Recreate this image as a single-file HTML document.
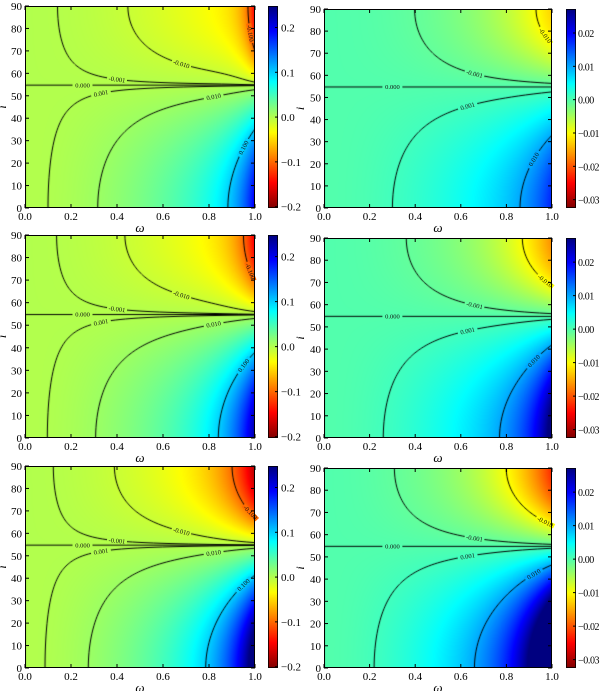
<!DOCTYPE html>
<html><head><meta charset="utf-8">
<style>
html,body{margin:0;padding:0;background:#fff;}
#wrap{position:relative;width:600px;height:691px;overflow:hidden;}
canvas{position:absolute;}
svg{position:absolute;left:0;top:0;}
text{font-family:"Liberation Serif",serif;}
</style></head>
<body>
<div id="wrap">
<svg id="ov" width="600" height="691"></svg>
</div>
<script>
// ---- data ----
const amp=[0.1,0.0111,0.106,0.0148,0.132,0.0207];
const posK=[1.0,0.62,1.19,1.05,1.2,1.27];
const posM=[10,6.9,7.3,7.7,6.9,5.9];
const negK=[2.1,1.29,1.95,1.27,1.74,1.2];
const negM=[20,2.4,11.3,3.45,6.6,3.8];
const levelsLeft=[-0.1,-0.01,-0.001,0,0.001,0.01,0.1];
const levelsRight=[-0.01,-0.001,0,0.001,0.01];
const cbTicksLeft=[-0.2,-0.1,0.0,0.1,0.2];
const cbTicksRight=[-0.03,-0.02,-0.01,0.00,0.01,0.02];
const xTicks=[0,0.2,0.4,0.6,0.8,1.0];
const yTicks=[0,10,20,30,40,50,60,70,80,90];
const labelOmegaLeft={"0":0.25,"0.001":0.33,"-0.001":0.4,"0.01":0.82,"-0.01":0.68,"0.1":0.95,"-0.1":0.98};
const labelOmegaRight={"0":0.3,"0.001":0.63,"-0.001":0.66,"0.01":0.92,"-0.01":0.97};

// ---- layout ----
const panels=[
 {x:25,y:6,w:230,h:202,cb:268,left:true},
 {x:324,y:9,w:228,h:199,cb:566,left:false},
 {x:25,y:235,w:230,h:203,cb:268,left:true},
 {x:324,y:238,w:228,h:200,cb:566,left:false},
 {x:25,y:466,w:230,h:202,cb:268,left:true},
 {x:324,y:468,w:228,h:200,cb:566,left:false}
];
const NS="http://www.w3.org/2000/svg";
const ov=document.getElementById('ov');
const wrap=document.getElementById('wrap');
function jet(t){t=Math.max(0,Math.min(1,t));
 const c=v=>Math.round(255*Math.max(0,Math.min(1,v)));
 return [c(1.5-Math.abs(4*t-3)),c(1.5-Math.abs(4*t-2)),c(1.5-Math.abs(4*t-1))];}
function cmap(t){return jet(1-t);}
function field(p,w,i){
 const c=Math.cos(i*Math.PI/180);const P2=(3*c*c-1)/2;
 const k=P2>=0?posK[p]:negK[p], m=P2>=0?posM[p]:negM[p];
 return amp[p]*w*w*(1+k*Math.pow(w,m))*P2;}
function el(tag,attrs,parent){const e=document.createElementNS(NS,tag);for(const a in attrs)e.setAttribute(a,attrs[a]);(parent||ov).appendChild(e);return e;}
function fmt(v,d){let s=v.toFixed(d);if(v<0)s='\u2212'+s.slice(1);return s;}

panels.forEach((P,p)=>{
 const vmin=P.left?-0.203:-0.0325, vmax=P.left?0.248:0.0272;
 const levels=P.left?levelsLeft:levelsRight;
 const labOm=P.left?labelOmegaLeft:labelOmegaRight;
 const cv=document.createElement('canvas');cv.width=P.w;cv.height=P.h;
 cv.style.left=P.x+'px';cv.style.top=P.y+'px';
 
 
 wrap.insertBefore(cv,ov);
 const ctx=cv.getContext('2d');const img=ctx.createImageData(P.w,P.h);
 for(let py=0;py<P.h;py++)for(let px=0;px<P.w;px++){
  const w=(px+0.5)/P.w, i=90*(1-(py+0.5)/P.h);
  const col=cmap((field(p,w,i)-vmin)/(vmax-vmin));const o=(py*P.w+px)*4;
  img.data[o]=col[0];img.data[o+1]=col[1];img.data[o+2]=col[2];img.data[o+3]=255;}
 ctx.putImageData(img,0,0);
 const G=[];for(let gy=0;gy<=P.h;gy++){const row=[];for(let gx=0;gx<=P.w;gx++)row.push(field(p,gx/P.w,90*(1-gy/P.h)));G.push(row);}
 ctx.strokeStyle='#000';ctx.lineWidth=1;
 levels.forEach(L=>{
  const lv=L;ctx.beginPath();
  for(let gy=0;gy<P.h;gy++)for(let gx=0;gx<P.w;gx++){
   const a=G[gy][gx]-lv,b=G[gy][gx+1]-lv,c=G[gy+1][gx+1]-lv,d=G[gy+1][gx]-lv;
   const pts=[];
   if((a>0)!==(b>0))pts.push([gx+a/(a-b),gy]);
   if((b>0)!==(c>0))pts.push([gx+1,gy+b/(b-c)]);
   if((d>0)!==(c>0))pts.push([gx+d/(d-c),gy+1]);
   if((a>0)!==(d>0))pts.push([gx,gy+a/(a-d)]);
   if(pts.length>=2){ctx.moveTo(pts[0][0],pts[0][1]);ctx.lineTo(pts[1][0],pts[1][1]);}
   if(pts.length===4){ctx.moveTo(pts[2][0],pts[2][1]);ctx.lineTo(pts[3][0],pts[3][1]);}
  }
  ctx.stroke();
  const w=labOm[String(L)];if(w===undefined)return;
  let lo,hi,i;
  if(L===0){i=Math.acos(Math.sqrt(1/3))*180/Math.PI;}
  else{
   if(L>0){lo=0;hi=54.7;}else{lo=54.8;hi=90;}
   const g=t=>field(p,w,t)-L;
   if(g(lo)*g(hi)>0)return;
   for(let n=0;n<40;n++){const m=(lo+hi)/2;if(g(lo)*g(m)<=0)hi=m;else lo=m;}
   i=(lo+hi)/2;}
  const X=P.x+w*P.w, Y=P.y+(1-i/90)*P.h;
  const e=1e-3,dfw=(field(p,w+e,i)-field(p,w-e,i))/(2*e)/P.w, dfi=(field(p,w,i+e*90)-field(p,w,i-e*90))/(2*e*90)*(90/P.h);
  let ang=Math.atan2(dfw,dfi)*180/Math.PI;
  if(ang>90)ang-=180;if(ang<-90)ang+=180;
  const col=cmap((field(p,w,i)-vmin)/(vmax-vmin));
  const g=el('g',{transform:`translate(${X.toFixed(1)},${Y.toFixed(1)}) rotate(${ang.toFixed(1)})`});
  
  
  const r=el('rect',{x:-10,y:-2.5,width:20,height:5,fill:`rgb(${col})`},g);
  
  
  const t=el('text',{x:0,y:2.2,'font-size':'6.5','text-anchor':'middle',fill:'#111'},g);
  t.textContent=(L<0?'-':'')+Math.abs(L).toFixed(3);
  
  
 });
 const fr=el('rect',{x:P.x+0.5,y:P.y+0.5,width:P.w-1,height:P.h-1,fill:'none',stroke:'#000','stroke-width':1});
 
 
 xTicks.forEach(v=>{const X=P.x+v*P.w;
  el('line',{x1:X,y1:P.y+P.h,x2:X,y2:P.y+P.h-4,stroke:'#000'});
  el('line',{x1:X,y1:P.y,x2:X,y2:P.y+4,stroke:'#000'});
  const t=el('text',{x:X,y:P.y+P.h+12,'font-size':'11','text-anchor':'middle'});t.textContent=v.toFixed(1);
  
  });
 yTicks.forEach(v=>{const Y=P.y+(1-v/90)*P.h;
  el('line',{x1:P.x,y1:Y,x2:P.x+4,y2:Y,stroke:'#000'});
  el('line',{x1:P.x+P.w,y1:Y,x2:P.x+P.w-4,y2:Y,stroke:'#000'});
  const t=el('text',{x:P.x-3,y:Y+4,'font-size':'11','text-anchor':'end'});t.textContent=String(v);
  
  });
 const xl=el('text',{x:P.x+P.w/2,y:P.y+P.h+24,'font-size':'13','font-style':'italic','text-anchor':'middle'});xl.textContent='ω';
 
 
 const yl=el('text',{x:0,y:0,'font-size':'12','font-style':'italic','text-anchor':'middle',transform:`translate(${P.left?6:304},${P.y+P.h/2}) rotate(-90)`});yl.textContent='i';
 
 
 const cb=document.createElement('canvas');cb.width=10;cb.height=P.h;
 cb.style.left=P.cb+'px';cb.style.top=P.y+'px';
 
 
 wrap.insertBefore(cb,ov);
 const cc=cb.getContext('2d');
 for(let y=0;y<P.h;y++){const col=cmap(1-(y+0.5)/P.h);cc.fillStyle=`rgb(${col})`;cc.fillRect(0,y,10,1);}
 el('rect',{x:P.cb+0.5,y:P.y+0.5,width:9,height:P.h-1,fill:'none',stroke:'#000','stroke-width':0.8});
 (P.left?cbTicksLeft:cbTicksRight).forEach(v=>{
  const Y=P.y+(vmax-v)/(vmax-vmin)*P.h;
  el('line',{x1:P.cb+7,y1:Y,x2:P.cb+10,y2:Y,stroke:'#000'});
  const t=el('text',{x:P.cb+(P.left?13:12),y:Y+4,'font-size':P.left?'11':'10','letter-spacing':P.left?'0':'-0.4'});
  t.textContent=fmt(v,P.left?1:2);
  
  });
});
</script>
</body></html>
